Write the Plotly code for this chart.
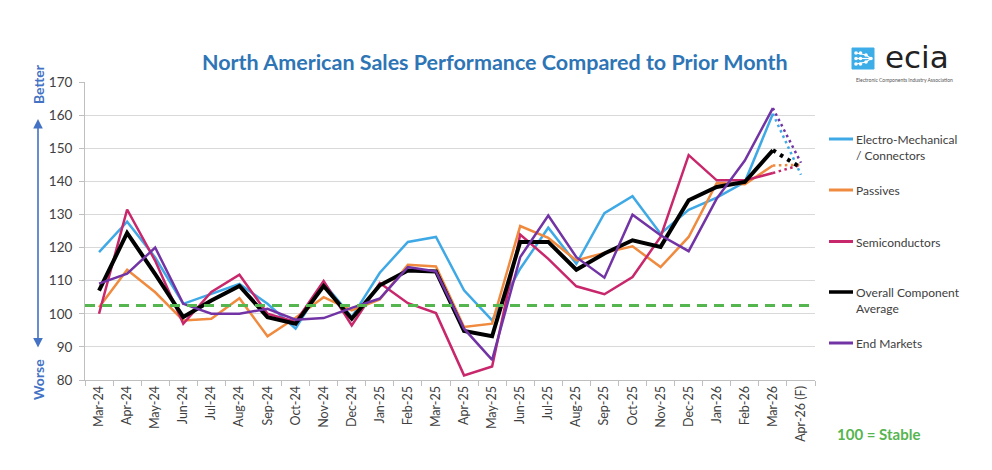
import plotly.graph_objects as go

# ---------------- data ----------------
months = ["Mar-24", "Apr-24", "May-24", "Jun-24", "Jul-24", "Aug-24", "Sep-24", "Oct-24",
          "Nov-24", "Dec-24", "Jan-25", "Feb-25", "Mar-25", "Apr-25", "May-25", "Jun-25",
          "Jul-25", "Aug-25", "Sep-25", "Oct-25", "Nov-25", "Dec-25", "Jan-26", "Feb-26",
          "Mar-26", "Apr-26 (F)"]

electro_mech = [118.6, 127.8, 117.0, 103.0, 106.0, 109.0, 103.0, 95.5, 109.3, 99.0,
                112.4, 121.7, 123.2, 107.1, 98.0, 113.6, 126.0, 115.1, 130.4, 135.5,
                124.2, 131.4, 135.1, 139.8, 160.4, 142.0]
passives = [102.0, 113.3, 106.5, 98.0, 98.5, 104.7, 93.2, 98.8, 105.0, 101.0,
            104.3, 114.8, 114.3, 96.0, 97.0, 126.5, 122.9, 116.1, 118.4, 120.4,
            114.1, 123.2, 139.5, 139.1, 144.8, 145.0]
semiconductors = [100.0, 131.5, 116.0, 97.0, 106.6, 111.8, 100.0, 97.5, 109.9, 96.5,
                  109.3, 103.2, 100.2, 81.4, 84.1, 123.9, 116.6, 108.3, 105.9, 111.1,
                  123.2, 147.9, 140.3, 140.3, 142.5, 145.0]
overall_avg = [107.0, 124.4, 112.0, 99.0, 104.0, 108.4, 99.0, 97.0, 108.4, 98.5,
               108.6, 113.1, 112.8, 94.8, 93.2, 121.7, 121.7, 113.3, 118.2, 122.2,
               120.2, 134.3, 138.3, 139.8, 149.4, 144.1]
end_markets = [109.1, 112.1, 120.0, 103.0, 100.0, 100.0, 101.5, 98.2, 98.7, 101.8,
               104.6, 114.1, 112.8, 95.5, 86.1, 117.1, 129.7, 117.1, 110.9, 129.9,
               123.7, 118.9, 134.8, 146.3, 162.1, 145.6]

stable_line = 102.5
y_ticks = [80, 90, 100, 110, 120, 130, 140, 150, 160, 170]

series = [
    ("Electro-Mechanical<br>/ Connectors", electro_mech, "#3FA9E6", 2.5),
    ("Passives", passives, "#EF8A3E", 2.5),
    ("Semiconductors", semiconductors, "#C8276B", 2.5),
    ("Overall Component<br>Average", overall_avg, "#000000", 4),
    ("End Markets", end_markets, "#7234A5", 2.5),
]

# ---------------- layout geometry (pixels) ----------------
W, H = 992, 470
L, R, T, B = 85, 815, 82, 380


def px(x):
    return (x - L) / (R - L)


def py(y):
    return (B - y) / (B - T)


FONT = "Lato"
TXT = "#404040"

fig = go.Figure()

for name, vals, color, width in series:
    fig.add_trace(go.Scatter(
        x=months[:-1], y=vals[:-1], mode="lines", name=name.replace("<br>", " "),
        line=dict(color=color, width=width), showlegend=False))
    fig.add_trace(go.Scatter(
        x=months[-2:], y=vals[-2:], mode="lines", showlegend=False,
        line=dict(color=color, width=width,
                  dash="3.5px,5px" if width > 3 else "2.5px,3.5px")))

shapes = []
annotations = []

# stable dashed line
shapes.append(dict(type="line", xref="paper", yref="y", x0=0, x1=1,
                   y0=stable_line, y1=stable_line,
                   line=dict(color="#55B54F", width=3, dash="10px,7px"), layer="above"))

# manual legend
legend_y = [139, 190, 241.5, 292, 343]
for (name, vals, color, width), ly in zip(series, legend_y):
    shapes.append(dict(type="line", xref="paper", yref="paper",
                       x0=px(829), x1=px(853), y0=py(ly), y1=py(ly),
                       line=dict(color=color, width=3.5 if width > 3 else 3)))
    annotations.append(dict(xref="paper", yref="paper", x=px(854), y=py(ly - 9),
                            xanchor="left", yanchor="top", align="left",
                            text=name, showarrow=False,
                            font=dict(family=FONT, size=12, color=TXT)))

# Better / Worse
annotations.append(dict(xref="paper", yref="paper", x=px(38), y=py(84), text="<b>Better</b>",
                        textangle=-90, showarrow=False, xanchor="center", yanchor="middle",
                        font=dict(family=FONT, size=14, color="#4472C4")))
annotations.append(dict(xref="paper", yref="paper", x=px(38), y=py(380), text="<b>Worse</b>",
                        textangle=-90, showarrow=False, xanchor="center", yanchor="middle",
                        font=dict(family=FONT, size=14, color="#4472C4")))
annotations.append(dict(xref="paper", yref="paper", x=px(38), y=py(119), text="",
                        showarrow=True, ax=0, ay=230, axref="pixel", ayref="pixel",
                        arrowside="end+start", arrowhead=2, startarrowhead=2,
                        arrowsize=1.2, startarrowsize=1.2,
                        arrowwidth=1.6, arrowcolor="#4472C4"))

# 100 = Stable
annotations.append(dict(xref="paper", yref="paper", x=px(878), y=py(434),
                        text="<b>100 = Stable</b>", showarrow=False,
                        xanchor="center", yanchor="middle",
                        font=dict(family=FONT, size=15, color="#55B54F")))

# title
annotations.append(dict(xref="paper", yref="paper", x=px(495), y=py(62),
                        text="<b>North American Sales Performance Compared to Prior Month</b>",
                        showarrow=False, xanchor="center", yanchor="middle",
                        font=dict(family=FONT, size=21.5, color="#2E75B6")))

# ecia logo
shapes.append(dict(type="rect", xref="paper", yref="paper",
                   x0=px(852), x1=px(874), y0=py(69), y1=py(48),
                   fillcolor="#3DADE8", line=dict(color="#3DADE8", width=1)))
for (x0, y0, x1, y1) in [(856, 53, 866, 55), (856, 64, 866, 62), (866, 55, 871, 58.5),
                         (866, 62, 871, 58.5), (856, 58.5, 871, 58.5)]:
    shapes.append(dict(type="line", xref="paper", yref="paper",
                       x0=px(x0), x1=px(x1), y0=py(y0), y1=py(y1),
                       line=dict(color="white", width=1.2)))
for (cx, cy) in [(856, 53), (860.5, 53), (856, 58.5), (860.5, 58.5), (856, 64), (860.5, 64),
                 (866, 55), (866, 62), (871, 58.5)]:
    shapes.append(dict(type="circle", xref="paper", yref="paper",
                       x0=px(cx - 1.8), x1=px(cx + 1.8), y0=py(cy + 1.8), y1=py(cy - 1.8),
                       fillcolor="white", line=dict(width=0)))
annotations.append(dict(xref="paper", yref="paper", x=px(883), y=py(56.5), text="ecia",
                        showarrow=False, xanchor="left", yanchor="middle",
                        font=dict(family="DejaVu Sans", size=31, color="#222222")))
annotations.append(dict(xref="paper", yref="paper", x=px(904), y=py(80),
                        text="Electronic Components Industry Association",
                        showarrow=False, xanchor="center", yanchor="middle",
                        font=dict(family=FONT, size=5, color="#555555")))

fig.update_layout(
    width=W, height=H,
    margin=dict(l=L, r=W - R, t=T, b=H - B, pad=0),
    paper_bgcolor="white", plot_bgcolor="white",
    showlegend=False,
    shapes=shapes, annotations=annotations,
    xaxis=dict(type="category", categoryorder="array", categoryarray=months,
               tickangle=-90, tickson="boundaries", ticks="outside", ticklen=5,
               tickcolor="#BFBFBF", showline=True, linecolor="#BFBFBF", linewidth=1,
               showgrid=False, tickfont=dict(family=FONT, size=12.5, color=TXT),
               range=[-0.5, len(months) - 0.5]),
    yaxis=dict(range=[80, 170], tickvals=y_ticks, showgrid=True, gridcolor="#D9D9D9",
               gridwidth=1, showline=True, linecolor="#BFBFBF", linewidth=1,
               ticks="outside", ticklen=5, tickcolor="#BFBFBF", zeroline=False,
               ticklabelstandoff=4,
               tickfont=dict(family=FONT, size=13.5, color=TXT)),
)

fig.write_html("out.html")
